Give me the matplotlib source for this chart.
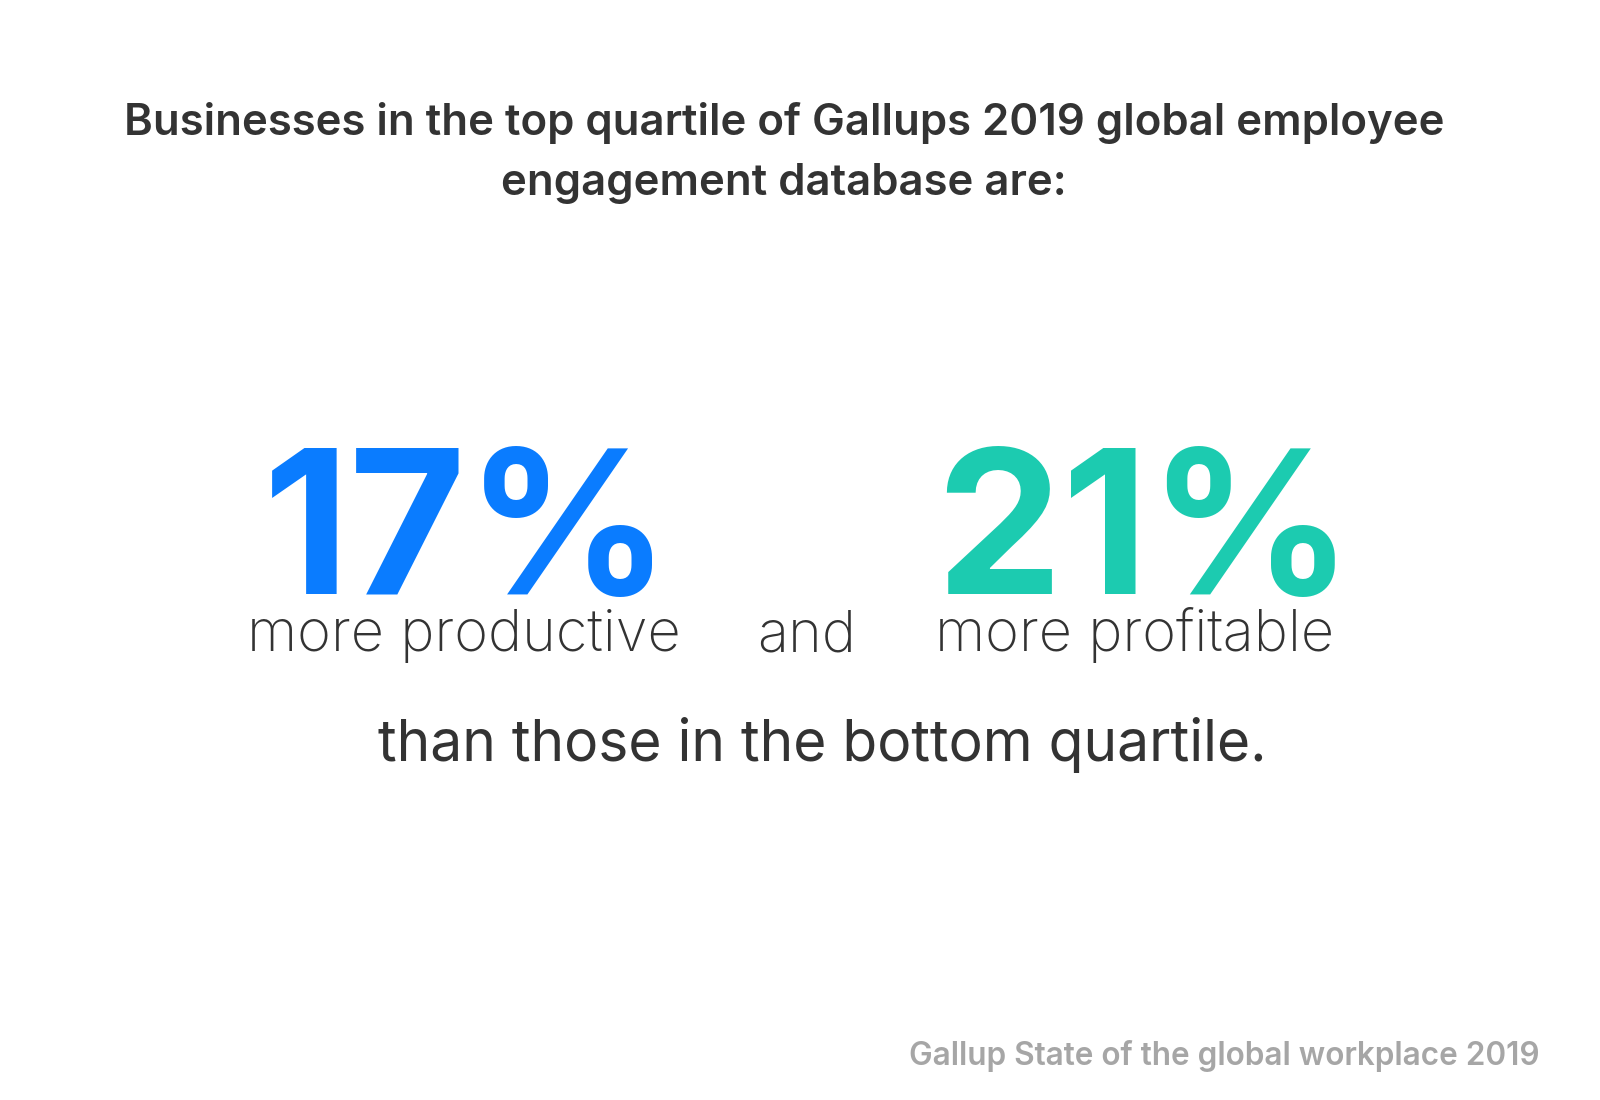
import matplotlib
matplotlib.use("Agg")
import matplotlib.pyplot as plt

values = [17, 21]
labels = ["more productive", "more profitable"]
colors = ["#0A7CFF", "#1CCBB0"]
title = "Businesses in the top quartile of Gallups 2019 global employee\nengagement database are:"
footer = "than those in the bottom quartile."
source = "Gallup State of the global workplace 2019"

plt.rcParams['font.family'] = ['Inter', 'DejaVu Sans']
fig = plt.figure(figsize=(16, 11), dpi=100)
fig.patch.set_facecolor("white")

fig.text(0.49, 0.861, title, ha='center', va='center', fontsize=31.5, fontweight='semibold',
         color='#333333', linespacing=1.6)

xs_big = [0.292, 0.715]
xs_lab = [0.290, 0.709]
for v, lab, c, xb, xl in zip(values, labels, colors, xs_big, xs_lab):
    fig.text(xb, 0.46, f"{v}%", ha='center', va='baseline', fontsize=145,
             fontweight='bold', color=c)
    fig.text(xl, 0.408, lab, ha='center', va='baseline', fontsize=41.5,
             fontweight='light', color='#333333')
fig.text(0.504, 0.408, "and", ha='center', va='baseline', fontsize=41.5,
         fontweight='light', color='#333333')
fig.text(0.514, 0.308, footer, ha='center', va='baseline', fontsize=41,
         fontweight='normal', color='#333333')
fig.text(0.962, 0.032, source, ha='right', va='baseline', fontsize=22.7,
         fontweight='semibold', color='#A6A6A6')

fig.savefig("out.png", dpi=100, facecolor="white")
